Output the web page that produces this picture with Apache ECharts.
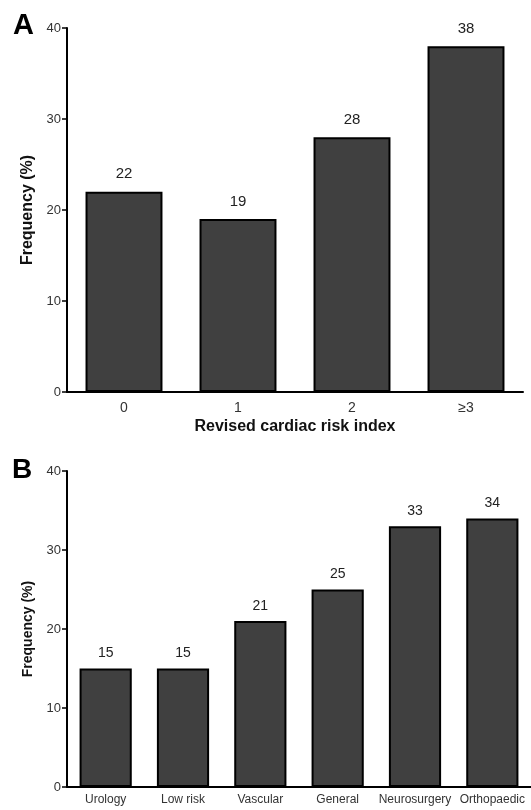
<!DOCTYPE html>
<html>
<head>
<meta charset="utf-8">
<script src="https://cdn.jsdelivr.net/npm/echarts@6/dist/echarts.min.js"></script>
<style>
  html, body { margin: 0; padding: 0; background: #fff; }
  #main { width: 531px; height: 810px; }
</style>
</head>
<body>
<div id="main"></div>
<script>
// panel A
var riskCats = ['0', '1', '2', '≥3'];
var riskVals = [22, 19, 28, 38];
// panel B
var surgCats = ['Urology', 'Low risk', 'Vascular', 'General', 'Neurosurgery', 'Orthopaedic'];
var surgVals = [15, 15, 21, 25, 33, 34];
var yTicks = [0, 10, 20, 30, 40];

var FONT = 'Liberation Sans, Arial, Helvetica, sans-serif';
var myChart = echarts.init(document.getElementById('main'));

function yAx(idx, nameSize, gap) {
    return {
        type: 'value', gridIndex: idx, min: yTicks[0], max: yTicks[yTicks.length - 1], interval: 10,
        name: 'Frequency (%)', nameLocation: 'middle', nameGap: gap,
        nameTextStyle: { fontFamily: FONT, fontWeight: 'bold', fontSize: nameSize, color: '#111' },
        axisLine: { show: true, lineStyle: { color: '#000', width: 2 } },
        axisTick: { show: true, length: 5, lineStyle: { color: '#000', width: 1.5 } },
        axisLabel: { margin: 6, fontFamily: FONT, fontSize: 13, color: '#333' },
        splitLine: { show: false }
    };
}
function xAx(idx, cats, lblSize, margin) {
    return {
        type: 'category', gridIndex: idx, data: cats,
        axisLine: { lineStyle: { color: '#000', width: 2 } },
        axisTick: { alignWithLabel: true, length: 5, lineStyle: { color: '#000', width: 1.5 } },
        axisLabel: { interval: 0, margin: margin, fontFamily: FONT, fontSize: lblSize, color: '#333' }
    };
}
function barSeries(idx, vals, lblSize, dist) {
    return {
        type: 'bar', xAxisIndex: idx, yAxisIndex: idx, data: vals,
        barWidth: '67.5%',
        itemStyle: { color: '#404040', borderColor: '#000', borderWidth: 2 },
        label: { show: true, position: 'top', distance: dist, fontFamily: FONT, fontSize: lblSize, color: '#222' }
    };
}

var xA = xAx(0, riskCats, 14, 9);
xA.name = 'Revised cardiac risk index';
xA.nameLocation = 'middle';
xA.nameGap = 27;
xA.nameTextStyle = { fontFamily: FONT, fontWeight: 'bold', fontSize: 16, color: '#111' };

option = {
    backgroundColor: '#fff',
    animation: false,
    title: [
        { text: 'A', left: 8, top: 6, textStyle: { fontFamily: FONT, fontWeight: 'bold', fontSize: 29, color: '#000' } },
        { text: 'B', left: 7, top: 451, textStyle: { fontFamily: FONT, fontWeight: 'bold', fontSize: 28, color: '#000' } }
    ],
    grid: [
        { left: 67, top: 28, width: 456, height: 364 },
        { left: 67, top: 471, width: 464, height: 316 }
    ],
    xAxis: [xA, xAx(1, surgCats, 12, 7)],
    yAxis: [yAx(0, 16, 29), yAx(1, 14, 25)],
    series: [barSeries(0, riskVals, 15, 10), barSeries(1, surgVals, 14, 8)]
};

myChart.setOption(option);
</script>
</body>
</html>
